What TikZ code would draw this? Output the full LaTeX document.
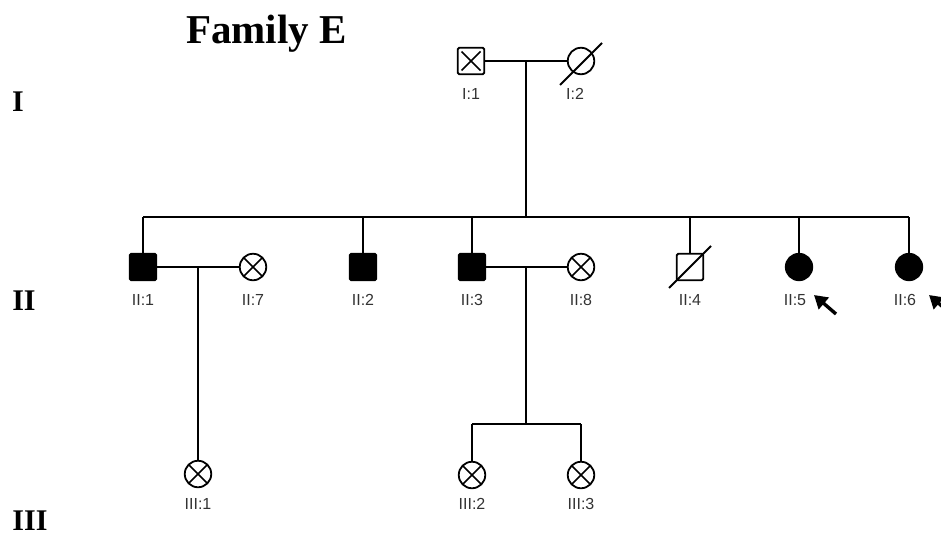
\documentclass[tikz,border=0pt]{standalone}
\usepackage{fontspec}
\setmainfont{Liberation Serif}
\newfontfamily\labfont{Liberation Sans}
\usetikzlibrary{arrows.meta}

\tikzset{
  person/.style={draw=black, line width=1.8pt, inner sep=0pt, minimum size=26.5pt},
  male/.style={person, rectangle, rounded corners=1.5pt},
  female/.style={person, circle},
  affected/.style={fill=black},
  crossed/.style={path picture={
      \draw[line width=1.6pt]
        ([shift={(-#1,-#1)}]path picture bounding box.center) --
        ([shift={(#1,#1)}]path picture bounding box.center)
        ([shift={(-#1,#1)}]path picture bounding box.center) --
        ([shift={(#1,-#1)}]path picture bounding box.center);}},
  crossed/.default=20,
  link/.style={line width=1.6pt},
  slash/.style={line width=1.8pt},
  proband/.style={line width=3.4pt, -{Triangle[length=13pt,width=15pt]}},
  idlab/.style={font=\labfont\fontsize{16}{16}\selectfont, text=black!80, inner sep=0pt},
  genlab/.style={font=\fontsize{30}{30}\selectfont\bfseries, inner sep=0pt},
}

\begin{document}
\begin{tikzpicture}[x=1pt, y=-1pt]
\clip (0,0) rectangle (941,536);
\fill[white] (0,0) rectangle (941,536);

% title and generation numbers
\node[anchor=base west, inner sep=0pt, font=\fontsize{41}{41}\selectfont\bfseries] (title) at (186,43) {Family E};
\node[genlab] (gI) at (18,102) {I};
\node[genlab] (gII) at (24,301) {II};
\node[genlab] (gIII) at (30,521) {III};

% generation I
\node[male, crossed=9.5] (I1) at (471,61) {};
\node[female] (I2) at (581,61) {};
\draw[slash] ([shift={(-21,24)}]I2.center) -- ([shift={(21,-18)}]I2.center);
\node[idlab] (lI1) at (471,94) {I:1};
\node[idlab] (lI2) at (575,94) {I:2};

% generation II
\node[male, affected] (II1) at (143,267) {};
\node[female, crossed] (II7) at (253,267) {};
\node[male, affected] (II2) at (363,267) {};
\node[male, affected] (II3) at (472,267) {};
\node[female, crossed] (II8) at (581,267) {};
\node[male] (II4) at (690,267) {};
\draw[slash] ([shift={(-21,21)}]II4.center) -- ([shift={(21,-21)}]II4.center);
\node[female, affected] (II5) at (799,267) {};
\node[female, affected] (II6) at (909,267) {};

\node[idlab] (lII1) at (143,300) {II:1};
\node[idlab] (lII7) at (253,300) {II:7};
\node[idlab] (lII2) at (363,300) {II:2};
\node[idlab] (lII3) at (472,300) {II:3};
\node[idlab] (lII8) at (581,300) {II:8};
\node[idlab] (lII4) at (690,300) {II:4};
\node[idlab] (lII5) at (795,300) {II:5};
\node[idlab] (lII6) at (905,300) {II:6};

% proband arrows
\coordinate (pa5) at (814,295);
\coordinate (pt5) at (836,314);
\coordinate (pa6) at (929,295);
\coordinate (pt6) at (951,314);
\draw[proband] (pt5) -- (pa5);
\draw[proband] (pt6) -- (pa6);

% generation III
\node[female, crossed] (III1) at (198,474) {};
\node[female, crossed] (III2) at (472,475) {};
\node[female, crossed] (III3) at (581,475) {};
\node[idlab] (lIII1) at (198,504) {III:1};
\node[idlab] (lIII2) at (472,504) {III:2};
\node[idlab] (lIII3) at (581,504) {III:3};

% marriage and descent lines
\coordinate (mI) at (526,61);
\coordinate (sII) at (526,217);
\draw[link] (I1) -- (I2);
\draw[link] (mI) -- (sII);
\draw[link] (II1.north |- sII) -- (II6.north |- sII);
\foreach \c in {II1,II2,II3,II4,II5,II6}
  \draw[link] (\c.north |- sII) -- (\c.north);

\coordinate (m17) at (198,267);
\draw[link] (II1) -- (II7);
\draw[link] (m17) -- (III1.north);

\coordinate (m38) at (526,267);
\coordinate (sIII) at (526,424);
\draw[link] (II3) -- (II8);
\draw[link] (m38) -- (sIII);
\draw[link] (III2.north |- sIII) -- (III3.north |- sIII);
\draw[link] (III2.north |- sIII) -- (III2.north);
\draw[link] (III3.north |- sIII) -- (III3.north);
\end{tikzpicture}
\end{document}
